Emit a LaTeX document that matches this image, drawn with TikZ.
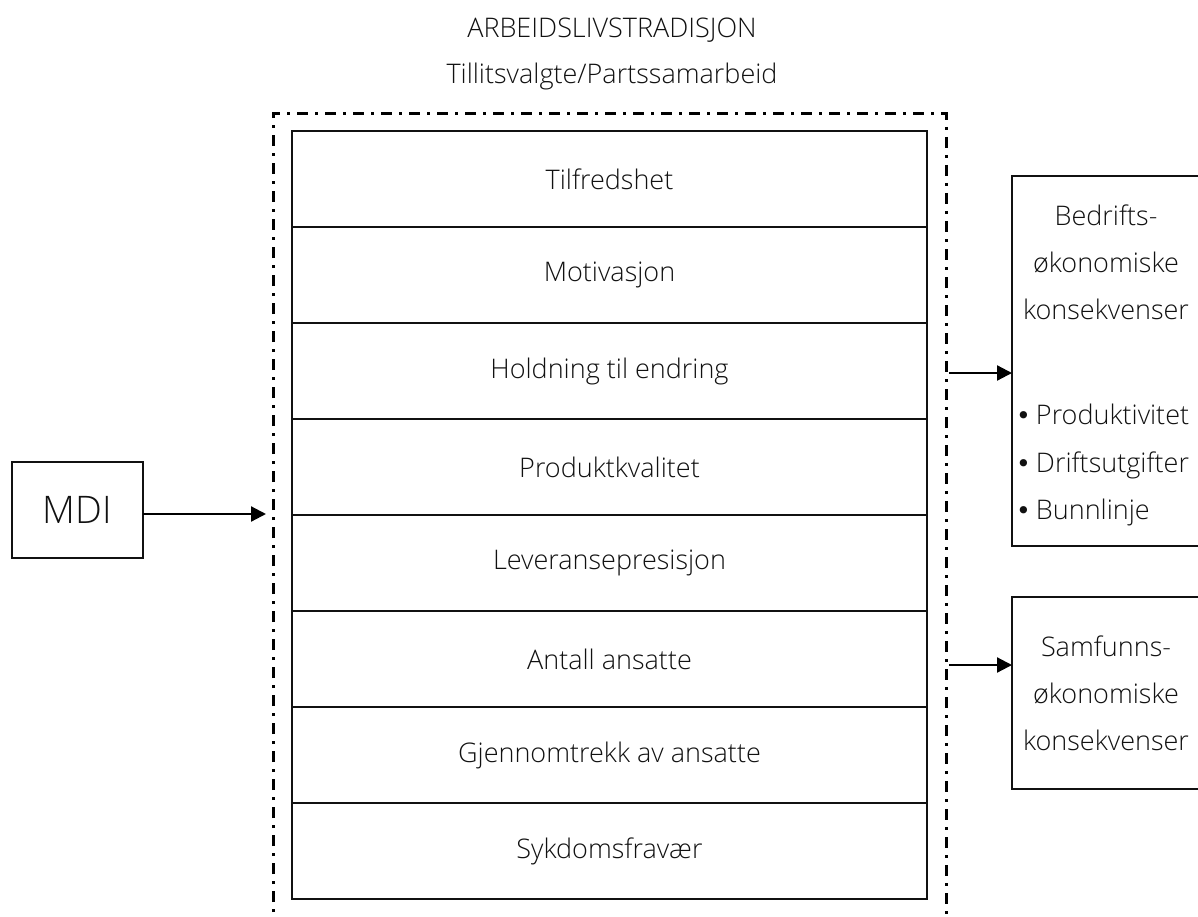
\documentclass[tikz,border=0pt]{standalone}
\usepackage{fontspec}
\setmainfont{Open Sans}[UprightFont=* Light]
\newfontfamily\dejavu{DejaVu Sans}
\newcommand\bul{{\dejavu\fontsize{25}{30}\selectfont •}\hspace{5pt}}
\usetikzlibrary{arrows.meta}
\definecolor{ink}{HTML}{111111}
\tikzset{
  rowbox/.style={draw=ink, line width=1.3pt, minimum width=635pt, minimum height=96pt, anchor=north west, inner sep=0pt, outer sep=0pt, text=ink, font=\fontsize{27}{32}\selectfont},
  sidebox/.style={draw=ink, line width=1.3pt, anchor=north west, inner sep=0pt, outer sep=0pt},
  txt/.style={text=ink, inner sep=0pt, font=\fontsize{27}{32}\selectfont},
  frame/.style={draw=black, line width=3pt, dash pattern=on 11pt off 7pt on 3pt off 7pt},
  conn/.style={draw=black, line width=2.2pt, -{Triangle[length=15pt,width=15pt]}}
}
\begin{document}
\begin{tikzpicture}[x=1pt,y=-1pt]
\useasboundingbox (0,0) rectangle (1198,917);
\clip (0,0) rectangle (1198,917);
% titles
\node[txt] (t1) at (612,30) {ARBEIDSLIVSTRADISJON};
\node[txt] (t2) at (612,76) {Tillitsvalgte/Partssamarbeid};
% dash-dot frame
\draw[frame] (273,930) -- (273,114) -- (946,114) -- (946,930);
% rows
\node[rowbox] (r1) at (292,131) {Tilfredshet};
\node[rowbox] (r2) at (292,227) {Motivasjon};
\node[rowbox] (r3) at (292,323) {Holdning til endring};
\node[rowbox] (r4) at (292,419) {Produktkvalitet};
\node[rowbox] (r5) at (292,515) {Leveransepresisjon};
\node[rowbox] (r6) at (292,611) {Antall ansatte};
\node[rowbox] (r7) at (292,707) {Gjennomtrekk av ansatte};
\node[rowbox] (r8) at (292,803) {Sykdomsfravær};
% MDI
\node[sidebox, minimum width=131pt, minimum height=96pt, font=\fontsize{38}{44}\selectfont, text=ink] (mdi) at (12,462) {MDI};
\coordinate (fin) at (266,514);
\draw[conn] (mdi.east |- fin) -- (fin);
% Bedrifts box
\node[sidebox, minimum width=220pt, minimum height=370pt] (bed) at (1012,176) {};
\node[txt, align=center, font=\fontsize{27}{47}\selectfont] (bedt) at (1106,262) {Bedrifts-\\økonomiske\\konsekvenser};
\node[txt, align=left, anchor=west, font=\fontsize{27}{47.5}\selectfont] (bedl) at (1016,465) {\bul Produktivitet\\\bul Driftsutgifter\\\bul Bunnlinje};
\coordinate (fo1) at (949,373);
\draw[conn] (fo1) -- (bed.west |- fo1);
% Samfunns box
\node[sidebox, minimum width=220pt, minimum height=192pt] (sam) at (1012,597) {};
\node[txt, align=center, font=\fontsize{27}{47}\selectfont] (samt) at (1106,693) {Samfunns-\\økonomiske\\konsekvenser};
\coordinate (fo2) at (949,665);
\draw[conn] (fo2) -- (sam.west |- fo2);
\end{tikzpicture}
\end{document}
